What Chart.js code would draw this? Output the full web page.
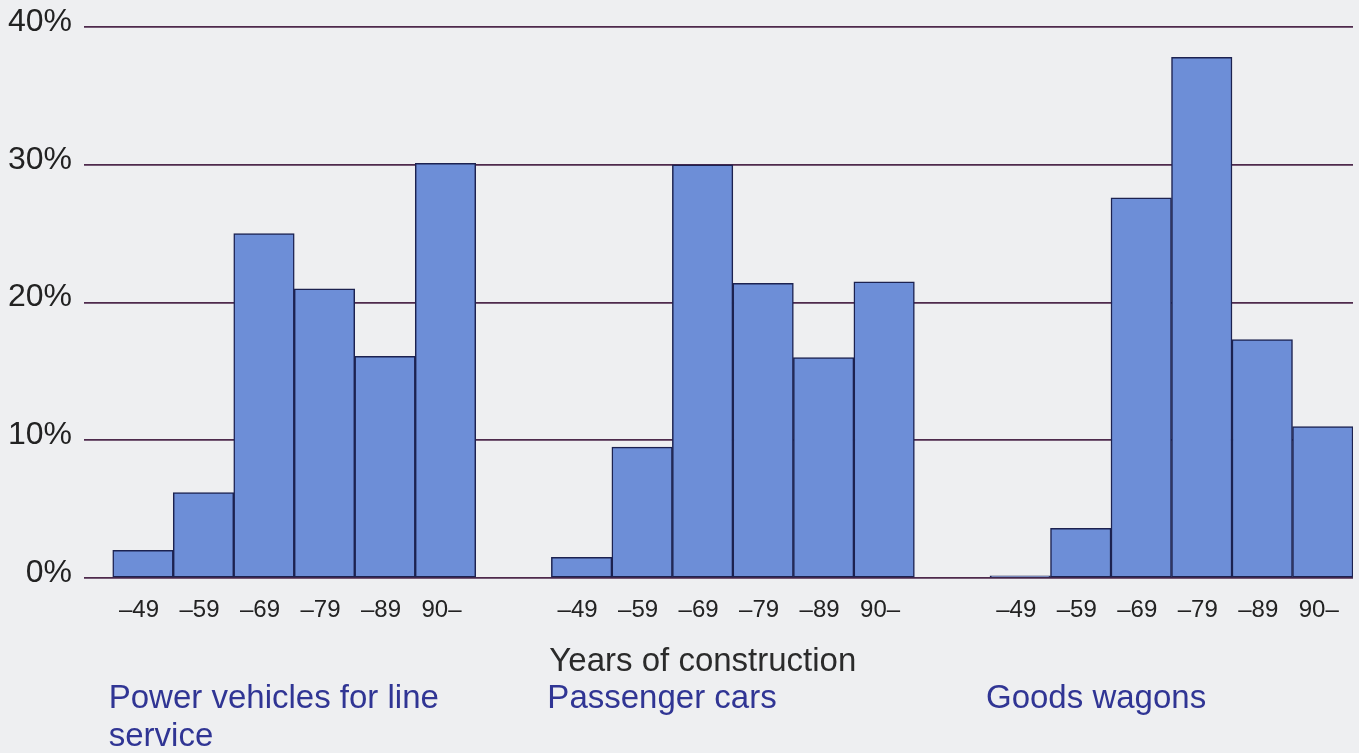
<!DOCTYPE html>
<html><head><meta charset="utf-8">
<script src="https://cdn.jsdelivr.net/npm/chart.js@4/dist/chart.umd.min.js"></script>
<style>
html,body{margin:0;padding:0;background:#eeeff1;}
#wrap{width:1359px;height:753px;position:relative;overflow:hidden;}
canvas{display:block;}
</style></head><body>
<div id="wrap"><canvas id="c" width="1359" height="753"></canvas></div>
<script>
// ---- data ----
const categories = ['–49', '–59', '–69', '–79', '–89', '90–'];
const groupNames = [['Power vehicles for line', 'service'], ['Passenger cars'], ['Goods wagons']];
const powerVehicles = [2.0, 6.2, 25.0, 21.0, 16.1, 30.1];
const passengerCars = [1.5, 9.5, 30.0, 21.4, 16.0, 21.5];
const goodsWagons = [0.15, 3.6, 27.6, 37.8, 17.3, 11.0];
const yTicks = [0, 10, 20, 30, 40];
const xTitle = 'Years of construction';

// ---- layout constants ----
const GROUP_STEP = 7.25;
const FONT = '"Liberation Sans", Arial, Helvetica, sans-serif';
const series = [powerVehicles, passengerCars, goodsWagons];
const positions = [];
series.forEach((s, g) => s.forEach((v, i) => positions.push(g * GROUP_STEP + i)));

const datasets = series.map((s, g) => ({
  data: s.map((v, i) => ({ x: g * GROUP_STEP + i, y: v })),
  backgroundColor: '#6d8ed7',
  borderColor: '#1c2250',
  borderWidth: 1.5,
  borderSkipped: false,
  grouped: false,
  categoryPercentage: 1,
  barPercentage: 1
}));

const textPlugin = {
  id: 'texts',
  afterDraw(chart) {
    const ctx = chart.ctx;
    const xs = chart.scales.x;
    const half = (xs.getPixelForValue(1) - xs.getPixelForValue(0)) / 2;
    ctx.save();
    ctx.textBaseline = 'middle';
    ctx.textAlign = 'left';
    ctx.font = '33px ' + FONT;
    ctx.fillStyle = '#2b2b2b';
    ctx.fillText(xTitle, xs.getPixelForValue(GROUP_STEP) - half - 2, 662);
    ctx.fillStyle = '#303594';
    groupNames.forEach((lines, g) => {
      const x = xs.getPixelForValue(g * GROUP_STEP) - half - 4;
      lines.forEach((t, k) => ctx.fillText(t, x, 699 + k * 38));
    });
    ctx.restore();
  }
};

new Chart(document.getElementById('c'), {
  type: 'bar',
  data: { datasets },
  plugins: [textPlugin],
  options: {
    responsive: false,
    animation: false,
    layout: { padding: { top: 27, right: 6, bottom: 0, left: 0 } },
    plugins: { legend: { display: false }, tooltip: { enabled: false } },
    scales: {
      x: {
        type: 'linear',
        offset: false,
        min: -0.975,
        max: 20,
        grid: { display: false, drawTicks: false, offset: false },
        border: { display: false },
        afterBuildTicks: s => { s.ticks = positions.map(v => ({ value: v })); },
        afterFit: s => { s.height = 175; s.paddingLeft = 0; s.paddingRight = 0; },
        ticks: {
          autoSkip: false,
          maxRotation: 0,
          padding: 18,
          labelOffset: -4,
          color: '#222',
          font: { family: FONT, size: 24 },
          callback: (v, i) => categories[i % categories.length]
        }
      },
      y: {
        min: 0,
        max: 40,
        grid: { color: '#4e2a4c', lineWidth: 1.7, drawTicks: false },
        border: { display: false },
        afterBuildTicks: s => { s.ticks = yTicks.map(v => ({ value: v })); },
        afterFit: s => { s.width = 84; s.paddingTop = 0; s.paddingBottom = 0; },
        ticks: {
          padding: 12,
          labelOffset: -5,
          color: '#222',
          font: { family: FONT, size: 32 },
          callback: v => v + '%'
        }
      }
    }
  }
});
</script>
</body></html>
